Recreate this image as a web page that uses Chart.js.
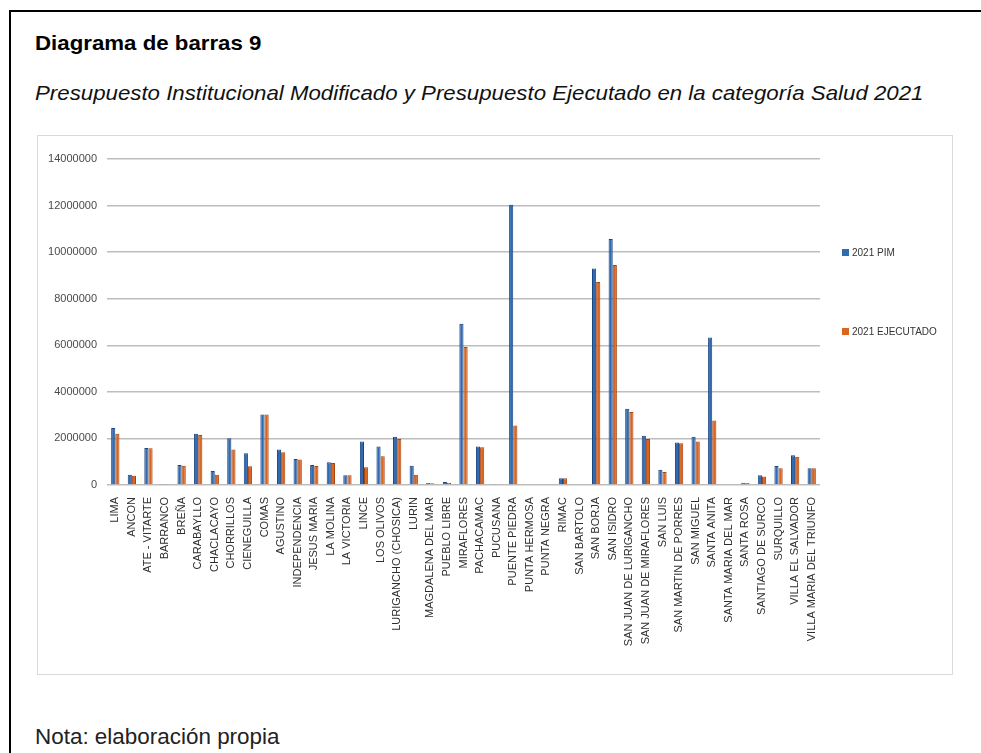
<!DOCTYPE html>
<html lang="es">
<head>
<meta charset="utf-8">
<title>Diagrama de barras 9</title>
<script src="https://cdn.jsdelivr.net/npm/chart.js@4"></script>
<style>
  html, body { margin: 0; padding: 0; background: #fff; }
  body { width: 981px; height: 753px; position: relative; overflow: hidden; font-family: "Liberation Sans", Arial, sans-serif; }
  .frame { position: absolute; left: 9px; top: 10px; width: 990px; height: 800px; border-left: 2px solid #000; border-top: 2px solid #000; }
  .txt { position: absolute; left: 35px; line-height: 1; white-space: nowrap; color: #000; transform-origin: left center; }
  #title { top: 32px; font-size: 21px; font-weight: bold; transform: scaleX(1.06); }
  #subtitle { top: 82px; font-size: 21px; font-style: italic; color: #111; transform: scaleX(1.06); }
  #nota { top: 726px; font-size: 22px; color: #222; transform: scaleX(1.02); }
  .box { position: absolute; left: 37px; top: 135px; width: 914px; height: 538px; border: 1px solid #d9d9d9; }
  #wrap { position: absolute; left: 38px; top: 136px; width: 914px; height: 538px; }
  .legend { position: absolute; left: 842px; font-size: 10px; color: #333; white-space: nowrap; line-height: 1; }
  .legend i { display: inline-block; width: 7px; height: 7px; margin-right: 3px; vertical-align: 0px; }
</style>
</head>
<body>
<div class="frame"></div>
<div class="txt" id="title">Diagrama de barras 9</div>
<div class="txt" id="subtitle">Presupuesto Institucional Modificado y Presupuesto Ejecutado en la categoría Salud 2021</div>
<div class="box"></div>
<div id="wrap"><canvas id="chart" width="914" height="538"></canvas></div>
<div class="legend" id="leg"></div>
<div class="txt" id="nota">Nota: elaboración propia</div>

<script>
// Distritos de Lima Metropolitana
const districts = [
  "LIMA", "ANCON", "ATE - VITARTE", "BARRANCO", "BREÑA", "CARABAYLLO",
  "CHACLACAYO", "CHORRILLOS", "CIENEGUILLA", "COMAS", "AGUSTINO",
  "INDEPENDENCIA", "JESUS MARIA", "LA MOLINA", "LA VICTORIA", "LINCE",
  "LOS OLIVOS", "LURIGANCHO (CHOSICA)", "LURIN", "MAGDALENA DEL MAR",
  "PUEBLO LIBRE", "MIRAFLORES", "PACHACAMAC", "PUCUSANA", "PUENTE PIEDRA",
  "PUNTA HERMOSA", "PUNTA NEGRA", "RIMAC", "SAN BARTOLO", "SAN BORJA",
  "SAN ISIDRO", "SAN JUAN DE LURIGANCHO", "SAN JUAN DE MIRAFLORES",
  "SAN LUIS", "SAN MARTIN DE PORRES", "SAN MIGUEL", "SANTA ANITA",
  "SANTA MARIA DEL MAR", "SANTA ROSA", "SANTIAGO DE SURCO", "SURQUILLO",
  "VILLA EL SALVADOR", "VILLA MARIA DEL TRIUNFO"
];

// Presupuesto Institucional Modificado 2021 (soles)
const pim2021 = [
  2450000, 440000, 1590000, 40000, 860000, 2200000,
  600000, 2010000, 1360000, 3030000, 1520000,
  1120000, 860000, 980000, 420000, 1870000,
  1650000, 2070000, 830000, 90000,
  130000, 6930000, 1650000, 40000, 12040000,
  0, 0, 290000, 0, 9300000,
  10560000, 3270000, 2110000,
  660000, 1820000, 2070000, 6330000,
  0, 100000, 420000, 820000,
  1280000, 720000
];

// Presupuesto ejecutado 2021 (soles)
const ejecutado2021 = [
  2200000, 400000, 1580000, 40000, 830000, 2150000,
  440000, 1520000, 800000, 3030000, 1410000,
  1090000, 820000, 950000, 420000, 760000,
  1230000, 1980000, 440000, 70000,
  100000, 5930000, 1620000, 30000, 2550000,
  0, 0, 290000, 0, 8720000,
  9450000, 3140000, 1980000,
  560000, 1790000, 1870000, 2770000,
  0, 90000, 370000, 720000,
  1210000, 720000
];

const seriesNames = ["2021 PIM", "2021 EJECUTADO"];
const yTicks = [0, 2000000, 4000000, 6000000, 8000000, 10000000, 12000000, 14000000];

const blueFill = "#2f6ab3", blueEdge = "#1b4580";
const orangeFill = "#d9651f", orangeEdge = "#a9430f";

// leyenda a la derecha del gráfico
const leg = document.getElementById("leg");
[[seriesNames[0], blueFill, 256], [seriesNames[1], orangeFill, 335]].forEach(([name, col, top]) => {
  const row = document.createElement("div");
  row.style.position = "absolute";
  row.style.top = (top - 8) + "px";
  row.innerHTML = '<i style="background:' + col + '"></i>' + name;
  leg.appendChild(row);
});
leg.style.top = "0px";

new Chart(document.getElementById("chart"), {
  type: "bar",
  data: {
    labels: districts,
    datasets: [
      { label: seriesNames[0], data: pim2021, backgroundColor: blueFill, borderColor: blueEdge, borderWidth: 1 },
      { label: seriesNames[1], data: ejecutado2021, backgroundColor: orangeFill, borderColor: orangeEdge, borderWidth: 1 }
    ]
  },
  options: {
    responsive: false,
    animation: false,
    events: [],
    layout: { padding: { left: 9, top: 23, right: 132, bottom: 0 } },
    plugins: { legend: { display: false }, tooltip: { enabled: false } },
    datasets: { bar: { categoryPercentage: 0.5, barPercentage: 1.0 } },
    scales: {
      x: {
        grid: { display: false },
        border: { display: false },
        afterFit: s => { s.height = 189; },
        ticks: {
          autoSkip: false, maxRotation: 90, minRotation: 90, padding: 4,
          color: "#2e2e2e",
          font: { family: "'Liberation Sans', Arial, sans-serif", size: 11 }
        }
      },
      y: {
        min: 0, max: 14000000,
        afterFit: s => { s.width = 60; },
        afterBuildTicks: s => { s.ticks = yTicks.map(v => ({ value: v })); },
        border: { display: false },
        grid: { color: "#bdbdbd", lineWidth: 1.5, drawTicks: false },
        ticks: {
          padding: 10,
          color: "#4a4a4a",
          font: { family: "'Liberation Sans', Arial, sans-serif", size: 11 },
          callback: v => String(v)
        }
      }
    }
  }
});
</script>
</body>
</html>
